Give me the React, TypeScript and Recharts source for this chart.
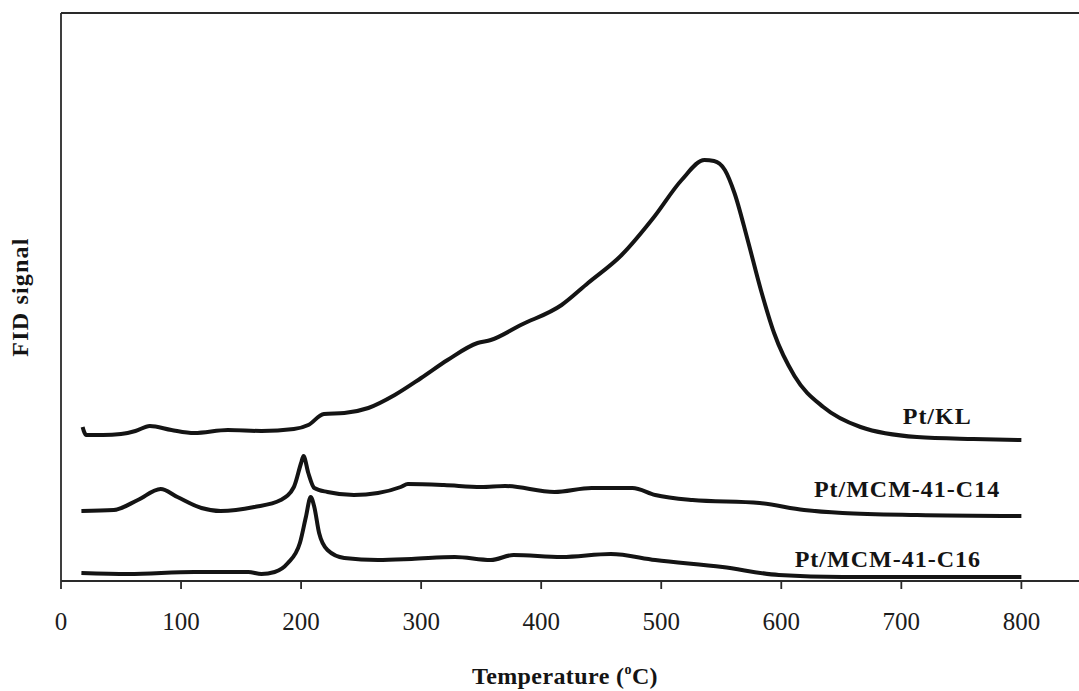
import { LineChart, Line, XAxis, YAxis, ReferenceLine, ReferenceDot, Label } from 'recharts';

// Temperature (°C) and FID signal (arbitrary units)
const ptKlTemp = [18, 19, 21, 35, 50, 62, 74, 92, 111, 139, 167, 194, 206, 219, 236, 256, 278, 300, 322, 347, 358, 383, 417, 439, 467, 494, 517, 536, 544, 553, 561, 572, 583, 594, 611, 635, 666, 713, 760, 800];
const ptKlSignal = [154, 150, 146, 146, 147, 150, 155, 151, 148, 151, 150, 152, 156, 167, 168, 173, 186, 203, 221, 238, 241, 256, 276, 298, 326, 364, 401, 421, 420, 411, 388, 341, 291, 248, 205, 174, 154, 144, 142, 141];

const c14Temp = [17, 44, 64, 83, 97, 117, 133, 161, 183, 194, 200, 202, 206, 211, 222, 244, 264, 283, 289, 319, 350, 370, 411, 442, 476, 495, 526, 582, 619, 651, 713, 800];
const c14Signal = [70, 71, 81, 92, 84, 73, 70, 74, 81, 94, 118, 125, 108, 93, 89, 86, 88, 94, 97, 96, 94, 95, 89, 93, 93, 86, 81, 78, 71, 68, 66, 65];

const c16Temp = [17, 56, 111, 156, 167, 178, 189, 199, 204, 208, 211, 215, 222, 236, 264, 292, 328, 358, 377, 417, 458, 495, 551, 598, 651, 800];
const c16Signal = [8, 7, 9, 9, 7, 9, 18, 38, 64, 84, 74, 48, 31, 23, 21, 22, 24, 21, 26, 24, 27, 21, 14, 6, 4, 4];

const xTicks = [0, 100, 200, 300, 400, 500, 600, 700, 800];

const seriesNames = ['Pt/KL', 'Pt/MCM-41-C14', 'Pt/MCM-41-C16'];
// where each curve's name sits (temperature, signal)
const nameAnchors = [
  [702, 164],
  [628, 91],
  [612, 21],
];

const zip = (t: number[], s: number[]) => t.map((v, i) => ({ t: v, s: s[i] }));

const FONT = '"Liberation Serif", "Times New Roman", serif';
const INK = '#141414';

const curves = [zip(ptKlTemp, ptKlSignal), zip(c14Temp, c14Signal), zip(c16Temp, c16Signal)];

const yTitle = () => (
  <text
    x={20}
    y={297}
    transform="rotate(-90 20 297)"
    textAnchor="middle"
    dominantBaseline="central"
    fontFamily={FONT}
    fontWeight="bold"
    fontSize={24}
    letterSpacing={1.2}
    fill={INK}
  >
    FID signal
  </text>
);

const xTitle = () => (
  <text x={565} y={684} textAnchor="middle" fontFamily={FONT} fontWeight="bold" fontSize={24} letterSpacing={0.4} fill={INK}>
    Temperature (<tspan fontSize={14} dy={-10}>o</tspan>
    <tspan dy={10}>C)</tspan>
  </text>
);

const nameLabel = (text: string) => (props: any) => {
  const vb = props.viewBox || {};
  return (
    <text
      x={vb.x}
      y={vb.y}
      dominantBaseline="central"
      fontFamily={FONT}
      fontWeight="bold"
      fontSize={24}
      letterSpacing={1}
      fill={INK}
    >
      {text}
    </text>
  );
};

export default function App() {
  return (
    <div style={{ position: 'absolute', left: 0, top: 0, background: '#fff' }}>
      <LineChart width={1079} height={691} margin={{ top: 13, right: 0, left: 0, bottom: 0 }}>
        <XAxis
          type="number"
          dataKey="t"
          domain={[0, 848]}
          ticks={xTicks}
          allowDataOverflow
          height={110}
          axisLine={{ stroke: '#2a2a2a', strokeWidth: 1.8 }}
          tickLine={{ stroke: '#2a2a2a', strokeWidth: 1.8 }}
          tickSize={8}
          tickMargin={23}
          tick={{ fill: '#1c1c1c', fontSize: 25, fontFamily: FONT }}
        >
          <Label content={xTitle} />
        </XAxis>
        <YAxis
          type="number"
          domain={[0, 568]}
          width={61}
          tick={false}
          tickLine={false}
          axisLine={{ stroke: '#2a2a2a', strokeWidth: 1.8 }}
        >
          <Label content={yTitle} />
        </YAxis>
        <ReferenceLine y={568} stroke="#2a2a2a" strokeWidth={1.8} />
        {curves.map((data, i) => (
          <Line
            key={seriesNames[i]}
            data={data}
            dataKey="s"
            type="monotone"
            stroke={INK}
            strokeWidth={4}
            dot={false}
            activeDot={false}
            isAnimationActive={false}
          />
        ))}
        {nameAnchors.map(([t, s], i) => (
          <ReferenceDot key={seriesNames[i]} x={t} y={s} r={1} fill="none" stroke="none">
            <Label content={nameLabel(seriesNames[i])} />
          </ReferenceDot>
        ))}
      </LineChart>
    </div>
  );
}
